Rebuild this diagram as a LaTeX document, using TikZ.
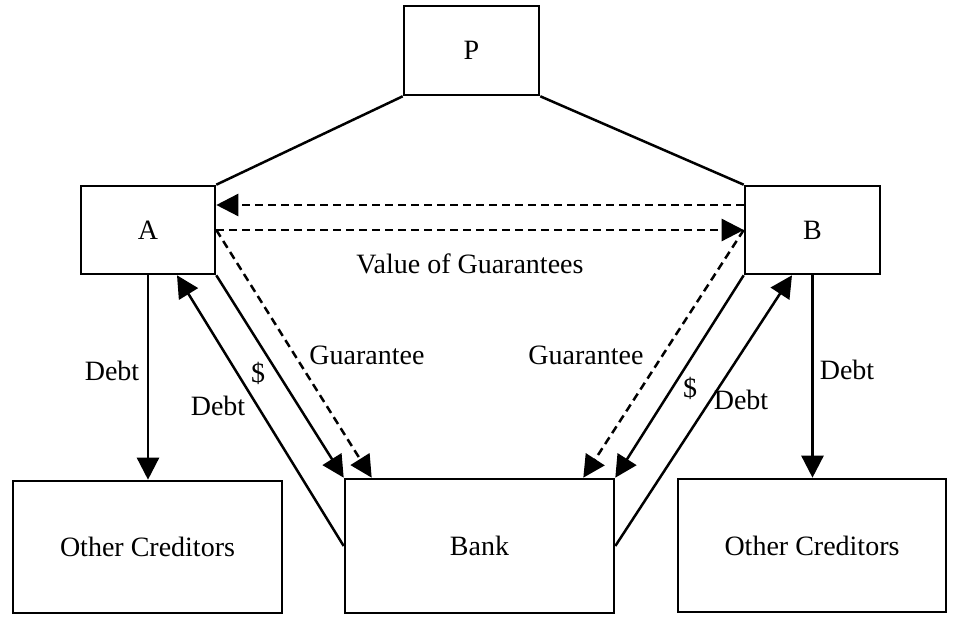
\documentclass[tikz,border=0pt]{standalone}
\usepackage{fontspec}
\setmainfont{Liberation Serif}
\usetikzlibrary{arrows.meta}
\begin{document}
\begin{tikzpicture}[x=0.5pt,y=-0.5pt,
  box/.style={draw,line width=1.3pt,inner sep=0pt,font=\fontsize{14}{16}\selectfont},
  lbl/.style={inner sep=0pt,font=\fontsize{14}{16}\selectfont},
  conn/.style={line width=1.25pt},
  arr/.style={conn,-{Triangle[length=11pt,width=11pt]}},
  darr/.style={arr,dash pattern=on 4pt off 2.5pt}]
\useasboundingbox (0,0) rectangle (955,620);
\node[box,minimum width=67.5pt,minimum height=44.5pt] (P) at (471.5,50.5) {P};
\node[box,minimum width=67pt,minimum height=44pt] (A) at (148,230) {A};
\node[box,minimum width=67.5pt,minimum height=44pt] (B) at (812.5,230) {B};
\node[box,minimum width=134.5pt,minimum height=66pt] (OCL) at (147.5,547) {Other Creditors};
\node[box,minimum width=134.5pt,minimum height=67pt] (Bank) at (479.5,546) {Bank};
\node[box,minimum width=134pt,minimum height=66.5pt] (OCR) at (812,545.5) {Other Creditors};
% P links
\draw[conn] (P.south west) -- (A.north east);
\draw[conn] (P.south east) -- (B.north west);
% value of guarantees
\draw[darr] ([yshift=12.5pt]B.west) -- ([yshift=12.5pt]A.east);
\draw[darr] (A.east) -- (B.west);
% guarantees
\draw[darr] (A.east) -- ([xshift=14pt]Bank.north west);
\draw[darr] (B.west) -- ([xshift=-16pt]Bank.north east);
% money
\draw[arr] (A.south east) -- (Bank.north west);
\draw[arr] (B.south west) -- (Bank.north east);
% debt to A, B
\draw[arr] (Bank.west) -- ([xshift=14.5pt]A.south);
\draw[arr] (Bank.east) -- ([xshift=-10.25pt]B.south);
% debt to other creditors
\draw[arr] (A.south) -- (A.south |- OCL.north);
\draw[arr] (B.south) -- (B.south |- OCR.north);
% labels
\node[lbl] (l1) at (112,371) {Debt};
\node[lbl] (l2) at (218,406) {Debt};
\node[lbl] (l3) at (258,373) {\$};
\node[lbl] (l4) at (367,355) {Guarantee};
\node[lbl] (l5) at (470,264) {Value of Guarantees};
\node[lbl] (l6) at (586,355) {Guarantee};
\node[lbl] (l7) at (690,388) {\$};
\node[lbl] (l8) at (741,400) {Debt};
\node[lbl] (l9) at (847,370) {Debt};
\end{tikzpicture}
\end{document}
